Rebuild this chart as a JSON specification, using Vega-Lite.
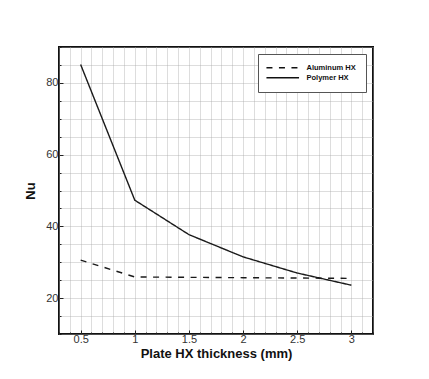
{
  "$schema": "https://vega.github.io/schema/vega-lite/v6.json",
  "width": 314,
  "height": 287,
  "autosize": {"type": "none"},
  "padding": {"left": 59, "top": 47, "right": 56, "bottom": 45},
  "background": "white",
  "config": {"view": {"stroke": "#111", "strokeWidth": 2}, "font": "Liberation Sans"},
  "data": {
    "values": [
      {"t": 0.5, "Nu": 30.6, "series": "Aluminum HX"},
      {"t": 1.0, "Nu": 25.9, "series": "Aluminum HX"},
      {"t": 1.5, "Nu": 25.8, "series": "Aluminum HX"},
      {"t": 2.0, "Nu": 25.7, "series": "Aluminum HX"},
      {"t": 2.5, "Nu": 25.6, "series": "Aluminum HX"},
      {"t": 3.0, "Nu": 25.5, "series": "Aluminum HX"},
      {"t": 0.5, "Nu": 85.1, "series": "Polymer HX"},
      {"t": 1.0, "Nu": 47.3, "series": "Polymer HX"},
      {"t": 1.5, "Nu": 37.7, "series": "Polymer HX"},
      {"t": 2.0, "Nu": 31.5, "series": "Polymer HX"},
      {"t": 2.5, "Nu": 27.0, "series": "Polymer HX"},
      {"t": 3.0, "Nu": 23.6, "series": "Polymer HX"}
    ]
  },
  "mark": {"type": "line", "strokeWidth": 1.4, "color": "#1a1a1a", "clip": true},
  "encoding": {
    "x": {
      "field": "t", "type": "quantitative",
      "scale": {"domain": [0.3, 3.2], "nice": false, "zero": false},
      "axis": {
        "title": "Plate HX thickness (mm)",
        "values": [0.3, 0.4, 0.5, 0.6, 0.7, 0.8, 0.9, 1.0, 1.1, 1.2, 1.3, 1.4, 1.5, 1.6, 1.7, 1.8, 1.9, 2.0, 2.1, 2.2, 2.3, 2.4, 2.5, 2.6, 2.7, 2.8, 2.9, 3.0, 3.1, 3.2],
        "format": "~g",
        "labelExpr": "abs(datum.value * 2 - round(datum.value * 2)) < 0.001 ? datum.label : ''",
        "grid": true, "gridDash": [1, 1], "gridColor": "#aaa", "gridWidth": 0.8,
        "tickSize": {"condition": {"test": "abs(datum.value * 2 - round(datum.value * 2)) < 0.001", "value": -4}, "value": -2},
        "tickColor": "#222", "domain": false,
        "labelFontSize": 11, "labelColor": "#333", "labelPadding": 3, "labelFlush": false,
        "titleFontSize": 13, "titleFontWeight": "bold", "titleColor": "#111", "titlePadding": 3
      }
    },
    "y": {
      "field": "Nu", "type": "quantitative",
      "scale": {"domain": [10, 90], "nice": false, "zero": false},
      "axis": {
        "title": "Nu",
        "values": [10, 15, 20, 25, 30, 35, 40, 45, 50, 55, 60, 65, 70, 75, 80, 85, 90],
        "labelExpr": "datum.value % 20 == 0 && datum.value >= 20 && datum.value <= 80 ? datum.label : ''",
        "grid": true, "gridDash": [1, 1], "gridColor": "#aaa", "gridWidth": 0.8,
        "tickSize": {"condition": {"test": "datum.value % 20 == 0", "value": -4}, "value": -2},
        "tickColor": "#222", "domain": false,
        "labelFontSize": 11, "labelColor": "#333", "labelPadding": 5, "labelFlush": false,
        "titleFontSize": 13, "titleFontWeight": "bold", "titleColor": "#111", "titlePadding": 8
      }
    },
    "strokeDash": {
      "field": "series", "type": "nominal",
      "scale": {"domain": ["Aluminum HX", "Polymer HX"], "range": [[6, 6.5], [1, 0]]},
      "legend": {
        "orient": "none", "legendX": 199, "legendY": 7, "title": null,
        "fillColor": "white", "strokeColor": "#555", "padding": 10,
        "symbolType": "M-8,0H8", "symbolSize": 16.6, "symbolStrokeWidth": 1.4, "symbolStrokeColor": "#111",
        "symbolOffset": 11,
        "labelFontSize": 7.5, "labelFontWeight": "bold", "labelColor": "#111", "labelOffset": 20,
        "rowPadding": 1
      }
    }
  }
}
